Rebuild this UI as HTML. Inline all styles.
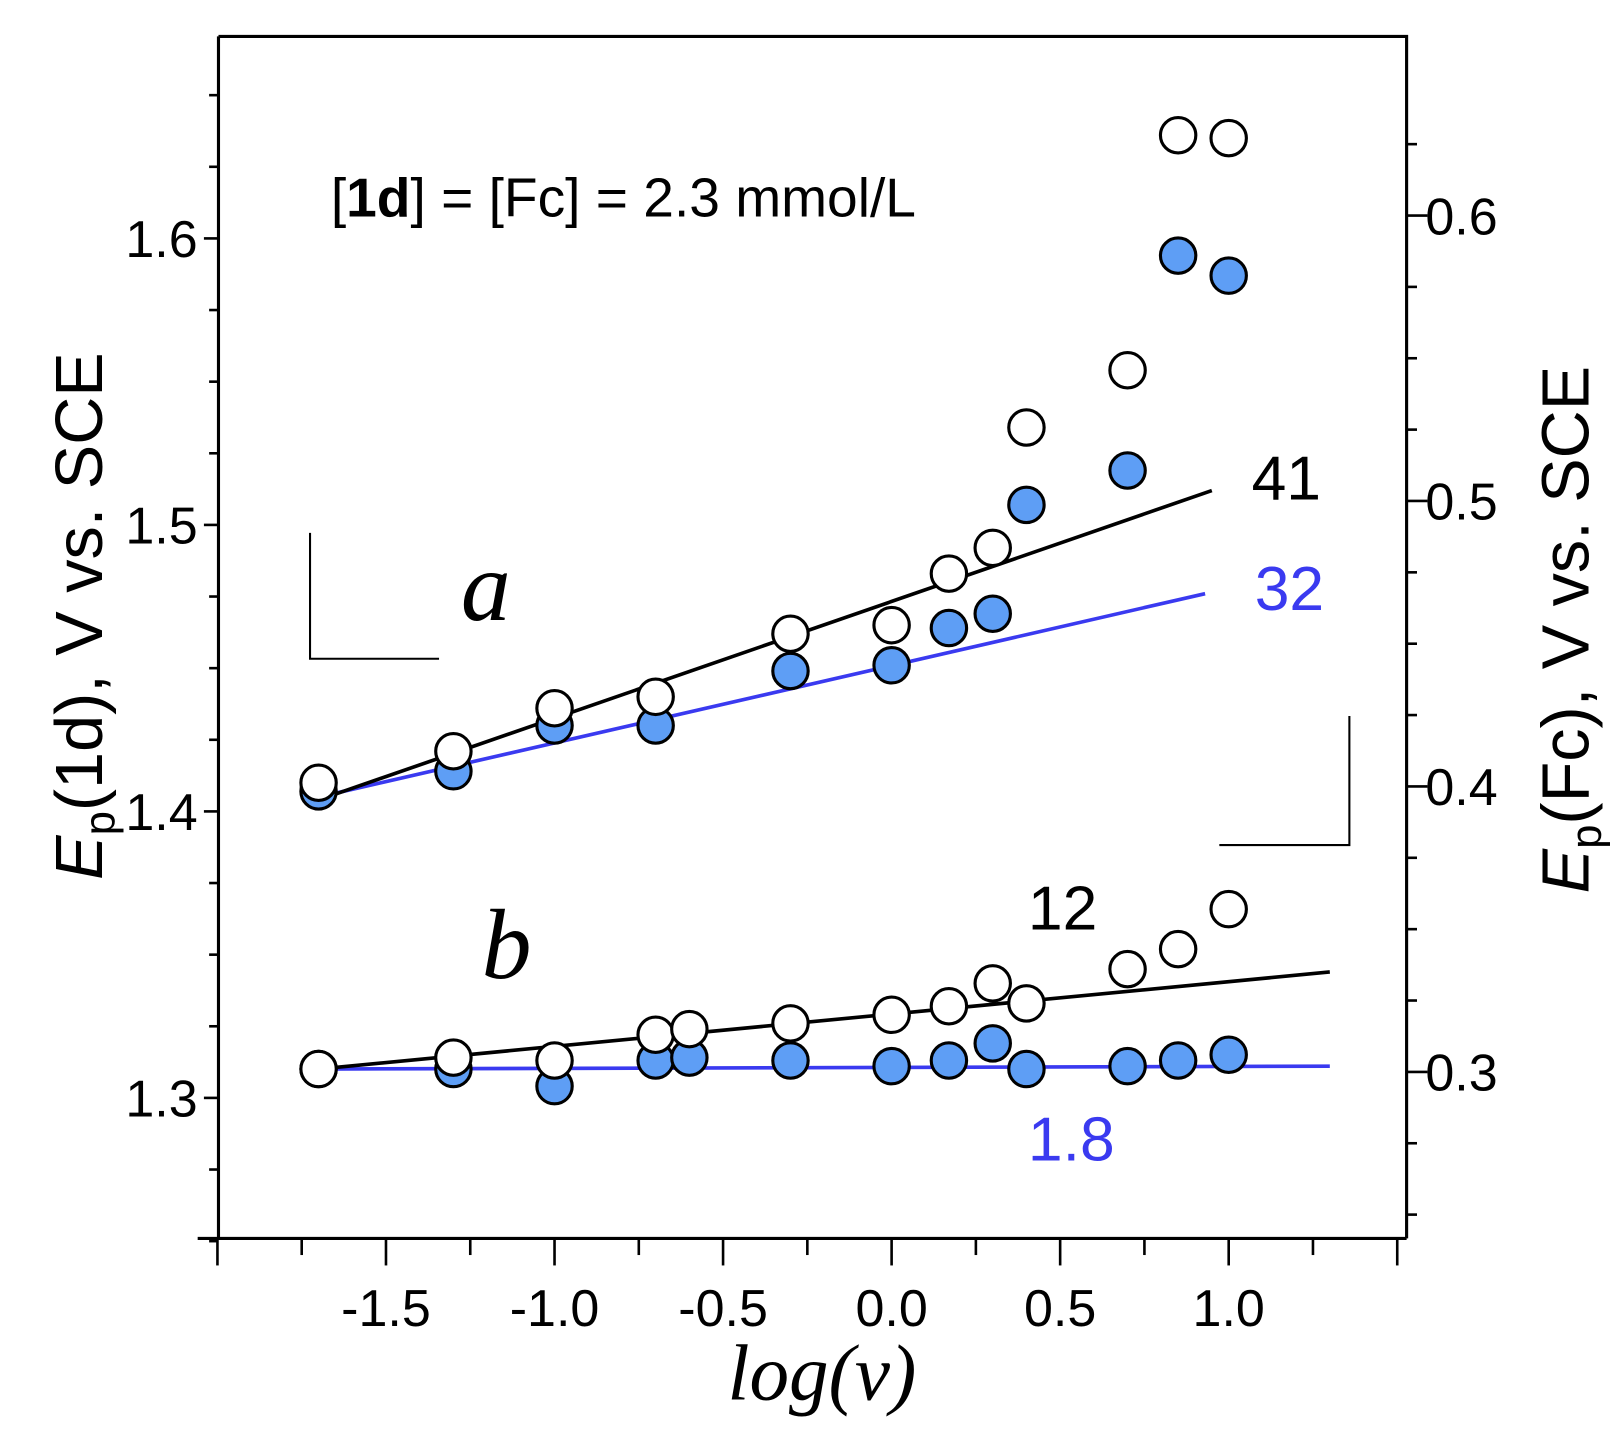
<!DOCTYPE html>
<html><head><meta charset="utf-8"><style>
html,body{margin:0;padding:0;background:#fff}
svg{display:block}
</style></head><body>
<svg id="chart" width="1623" height="1433" viewBox="0 0 1560 1377" preserveAspectRatio="none" xmlns="http://www.w3.org/2000/svg" style="font-family:'Liberation Sans',sans-serif">
<g id="axes"></g><g id="lines"></g><g id="marks"></g>
<text x="318" y="208" font-size="53">[<tspan font-weight="bold">1d</tspan>] = [Fc] = 2.3 mmol/L</text>
<text x="1203" y="480" font-size="60">41</text>
<text x="1206" y="586" font-size="60" fill="#3a3af0">32</text>
<text x="988" y="893" font-size="60">12</text>
<text x="988" y="1115" font-size="60" fill="#3a3af0">1.8</text>
<text x="443" y="596" font-size="96" style="font-family:'Liberation Serif',serif;font-style:italic">a</text>
<text x="463" y="940" font-size="96" style="font-family:'Liberation Serif',serif;font-style:italic">b</text>
<path d="M298 512 V633 H422" fill="none" stroke="#000" stroke-width="2"/>
<path d="M1297 688 V812 H1172" fill="none" stroke="#000" stroke-width="2"/>
<text x="790" y="1345" font-size="76" text-anchor="middle" style="font-family:'Liberation Serif',serif;font-style:italic">log(v)</text>
<text transform="translate(98,592) rotate(-90)" font-size="64" text-anchor="middle"><tspan font-style="italic">E</tspan><tspan font-size="42" dy="12">p</tspan><tspan dy="-12">(1d), V vs. SCE</tspan></text>
<text transform="translate(1527,605) rotate(-90)" font-size="64" text-anchor="middle"><tspan font-style="italic">E</tspan><tspan font-size="42" dy="12">p</tspan><tspan dy="-12">(Fc), V vs. SCE</tspan></text>
</svg>
<script>
const xs = [-1.7,-1.3,-1.0,-0.7,-0.3,0.0,0.17,0.3,0.4,0.7,0.85,1.0];
const aWhite = [1.410,1.421,1.436,1.440,1.462,1.465,1.483,1.492,1.534,1.554,1.636,1.635];
const aBlue = [1.407,1.414,1.430,1.430,1.449,1.451,1.464,1.469,1.507,1.519,1.594,1.587];
const xsB = [-1.7,-1.3,-1.0,-0.7,-0.6,-0.3,0.0,0.17,0.3,0.4,0.7,0.85,1.0];
const bWhite = [0.301,0.305,0.304,0.313,0.315,0.317,0.320,0.323,0.331,0.324,0.336,0.343,0.357];
const bBlue = [0.301,0.301,0.295,0.304,0.305,0.304,0.302,0.304,0.310,0.301,0.302,0.304,0.306];
const fitAblack = [[-1.7,1.404],[0.95,1.512]];
const fitAblue = [[-1.7,1.405],[0.93,1.476]];
const fitBblack = [[-1.7,0.301],[1.3,0.335]];
const fitBblue = [[-1.7,0.301],[1.3,0.302]];
const xTicks = [-1.5,-1.0,-0.5,0.0,0.5,1.0];
const xTickLabels = ["-1.5","-1.0","-0.5","0.0","0.5","1.0"];
const yLeftTicks = [1.3,1.4,1.5,1.6];
const yLeftLabels = ["1.3","1.4","1.5","1.6"];
const yRightTicks = [0.3,0.4,0.5,0.6];
const yRightLabels = ["0.3","0.4","0.5","0.6"];

const X = v => 857 + v*324;
const YL = v => 1055 - (v-1.3)*2753;
const YR = v => 1030 - (v-0.3)*2743;
const NS = "http://www.w3.org/2000/svg";
function mk(tag, attrs, parent){const e=document.createElementNS(NS,tag);for(const k in attrs)e.setAttribute(k,attrs[k]);parent.appendChild(e);return e;}
const axes=document.getElementById('axes'), lines=document.getElementById('lines'), marks=document.getElementById('marks');
const L=210,R=1352,T=35,B=1190;
let fr=mk('path',{d:`M${L} ${T} H${R} V${B} M${L} ${T} V${B} M190 ${B} H${R}`,fill:'none',stroke:'#000','stroke-width':3},axes);


for(let v=-2;v<=1.501;v+=0.25){const major=Math.abs(v*2-Math.round(v*2))<1e-6;
 const t=mk('line',{x1:X(v),x2:X(v),y1:B,y2:B+(major?26:16),stroke:'#000','stroke-width':2.5},axes);
 
 }
xTicks.forEach((v,i)=>{const t=mk('text',{x:X(v),y:1274,'font-size':50,'text-anchor':'middle'},axes);t.textContent=xTickLabels[i];
 
 });
for(let v=1.25;v<=1.651;v+=0.025){const major=Math.abs(v*10-Math.round(v*10))<1e-6;
 const t=mk('line',{x1:L-(major?14:9),x2:L,y1:YL(v),y2:YL(v),stroke:'#000','stroke-width':2.5},axes);
 
 }
yLeftTicks.forEach((v,i)=>{const t=mk('text',{x:190,y:YL(v)+18,'font-size':50,'text-anchor':'end'},axes);t.textContent=yLeftLabels[i];
 
 });
for(let v=0.25;v<=0.626;v+=0.025){const major=Math.abs(v*10-Math.round(v*10))<1e-6;
 const t=mk('line',{x1:R,x2:R+(major?20:10),y1:YR(v),y2:YR(v),stroke:'#000','stroke-width':2.5},axes);
 
 }
yRightTicks.forEach((v,i)=>{const t=mk('text',{x:1370,y:YR(v)+18,'font-size':50},axes);t.textContent=yRightLabels[i];
 
 });
function fit(p,Y,col,name){const l=mk('line',{x1:X(p[0][0]),y1:Y(p[0][1]),x2:X(p[1][0]),y2:Y(p[1][1]),stroke:col,'stroke-width':3.5},lines);
 
 }
fit(fitAblue,YL,'#3a3af0','fit-line-a-blue');
fit(fitAblack,YL,'#000','fit-line-a-black');
fit(fitBblue,YR,'#3a3af0','fit-line-b-blue');
fit(fitBblack,YR,'#000','fit-line-b-black');
function pts(xv,yv,Y,fill,name){xv.forEach((x,i)=>{const c=mk('circle',{cx:X(x),cy:Y(yv[i]),r:17,fill:fill,stroke:'#000','stroke-width':3},marks);
 
 });}
pts(xs,aBlue,YL,'#5e9ef5','point-a-blue');
pts(xs,aWhite,YL,'#fff','point-a-white');
pts(xsB,bBlue,YR,'#5e9ef5','point-b-blue');
pts(xsB,bWhite,YR,'#fff','point-b-white');
</script>
</body></html>
